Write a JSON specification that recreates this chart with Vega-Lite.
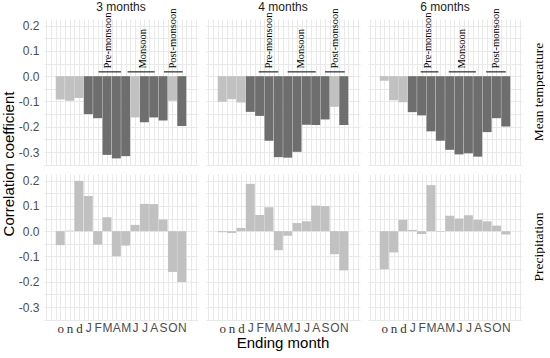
{
  "$schema": "https://vega.github.io/schema/vega-lite/v6.json",
  "padding": {"left": 1, "top": 1, "right": 0, "bottom": 0},
  "background": "white",
  "data": {"values": [
    {"kind":"bar","win":"3 months","var":"Mean temperature","idx":1,"r":-0.092,"sig":"no"},
    {"kind":"bar","win":"3 months","var":"Mean temperature","idx":2,"r":-0.097,"sig":"no"},
    {"kind":"bar","win":"3 months","var":"Mean temperature","idx":3,"r":-0.086,"sig":"no"},
    {"kind":"bar","win":"3 months","var":"Mean temperature","idx":4,"r":-0.150,"sig":"yes"},
    {"kind":"bar","win":"3 months","var":"Mean temperature","idx":5,"r":-0.166,"sig":"yes"},
    {"kind":"bar","win":"3 months","var":"Mean temperature","idx":6,"r":-0.311,"sig":"yes"},
    {"kind":"bar","win":"3 months","var":"Mean temperature","idx":7,"r":-0.325,"sig":"yes"},
    {"kind":"bar","win":"3 months","var":"Mean temperature","idx":8,"r":-0.316,"sig":"yes"},
    {"kind":"bar","win":"3 months","var":"Mean temperature","idx":9,"r":-0.163,"sig":"no"},
    {"kind":"bar","win":"3 months","var":"Mean temperature","idx":10,"r":-0.182,"sig":"yes"},
    {"kind":"bar","win":"3 months","var":"Mean temperature","idx":11,"r":-0.163,"sig":"yes"},
    {"kind":"bar","win":"3 months","var":"Mean temperature","idx":12,"r":-0.175,"sig":"yes"},
    {"kind":"bar","win":"3 months","var":"Mean temperature","idx":13,"r":-0.097,"sig":"no"},
    {"kind":"bar","win":"3 months","var":"Mean temperature","idx":14,"r":-0.197,"sig":"yes"},
    {"kind":"bar","win":"4 months","var":"Mean temperature","idx":1,"r":-0.101,"sig":"no"},
    {"kind":"bar","win":"4 months","var":"Mean temperature","idx":2,"r":-0.091,"sig":"no"},
    {"kind":"bar","win":"4 months","var":"Mean temperature","idx":3,"r":-0.104,"sig":"no"},
    {"kind":"bar","win":"4 months","var":"Mean temperature","idx":4,"r":-0.141,"sig":"yes"},
    {"kind":"bar","win":"4 months","var":"Mean temperature","idx":5,"r":-0.157,"sig":"yes"},
    {"kind":"bar","win":"4 months","var":"Mean temperature","idx":6,"r":-0.255,"sig":"yes"},
    {"kind":"bar","win":"4 months","var":"Mean temperature","idx":7,"r":-0.320,"sig":"yes"},
    {"kind":"bar","win":"4 months","var":"Mean temperature","idx":8,"r":-0.322,"sig":"yes"},
    {"kind":"bar","win":"4 months","var":"Mean temperature","idx":9,"r":-0.299,"sig":"yes"},
    {"kind":"bar","win":"4 months","var":"Mean temperature","idx":10,"r":-0.192,"sig":"yes"},
    {"kind":"bar","win":"4 months","var":"Mean temperature","idx":11,"r":-0.193,"sig":"yes"},
    {"kind":"bar","win":"4 months","var":"Mean temperature","idx":12,"r":-0.171,"sig":"yes"},
    {"kind":"bar","win":"4 months","var":"Mean temperature","idx":13,"r":-0.121,"sig":"no"},
    {"kind":"bar","win":"4 months","var":"Mean temperature","idx":14,"r":-0.193,"sig":"yes"},
    {"kind":"bar","win":"6 months","var":"Mean temperature","idx":1,"r":-0.018,"sig":"no"},
    {"kind":"bar","win":"6 months","var":"Mean temperature","idx":2,"r":-0.095,"sig":"no"},
    {"kind":"bar","win":"6 months","var":"Mean temperature","idx":3,"r":-0.103,"sig":"no"},
    {"kind":"bar","win":"6 months","var":"Mean temperature","idx":4,"r":-0.142,"sig":"yes"},
    {"kind":"bar","win":"6 months","var":"Mean temperature","idx":5,"r":-0.155,"sig":"yes"},
    {"kind":"bar","win":"6 months","var":"Mean temperature","idx":6,"r":-0.218,"sig":"yes"},
    {"kind":"bar","win":"6 months","var":"Mean temperature","idx":7,"r":-0.255,"sig":"yes"},
    {"kind":"bar","win":"6 months","var":"Mean temperature","idx":8,"r":-0.291,"sig":"yes"},
    {"kind":"bar","win":"6 months","var":"Mean temperature","idx":9,"r":-0.309,"sig":"yes"},
    {"kind":"bar","win":"6 months","var":"Mean temperature","idx":10,"r":-0.305,"sig":"yes"},
    {"kind":"bar","win":"6 months","var":"Mean temperature","idx":11,"r":-0.318,"sig":"yes"},
    {"kind":"bar","win":"6 months","var":"Mean temperature","idx":12,"r":-0.221,"sig":"yes"},
    {"kind":"bar","win":"6 months","var":"Mean temperature","idx":13,"r":-0.166,"sig":"yes"},
    {"kind":"bar","win":"6 months","var":"Mean temperature","idx":14,"r":-0.199,"sig":"yes"},
    {"kind":"bar","win":"3 months","var":"Precipitation","idx":1,"r":-0.055,"sig":"no"},
    {"kind":"bar","win":"3 months","var":"Precipitation","idx":2,"r":0.002,"sig":"no"},
    {"kind":"bar","win":"3 months","var":"Precipitation","idx":3,"r":0.199,"sig":"no"},
    {"kind":"bar","win":"3 months","var":"Precipitation","idx":4,"r":0.139,"sig":"no"},
    {"kind":"bar","win":"3 months","var":"Precipitation","idx":5,"r":-0.053,"sig":"no"},
    {"kind":"bar","win":"3 months","var":"Precipitation","idx":6,"r":0.055,"sig":"no"},
    {"kind":"bar","win":"3 months","var":"Precipitation","idx":7,"r":-0.099,"sig":"no"},
    {"kind":"bar","win":"3 months","var":"Precipitation","idx":8,"r":-0.057,"sig":"no"},
    {"kind":"bar","win":"3 months","var":"Precipitation","idx":9,"r":0.025,"sig":"no"},
    {"kind":"bar","win":"3 months","var":"Precipitation","idx":10,"r":0.108,"sig":"no"},
    {"kind":"bar","win":"3 months","var":"Precipitation","idx":11,"r":0.107,"sig":"no"},
    {"kind":"bar","win":"3 months","var":"Precipitation","idx":12,"r":0.046,"sig":"no"},
    {"kind":"bar","win":"3 months","var":"Precipitation","idx":13,"r":-0.161,"sig":"no"},
    {"kind":"bar","win":"3 months","var":"Precipitation","idx":14,"r":-0.201,"sig":"no"},
    {"kind":"bar","win":"4 months","var":"Precipitation","idx":1,"r":-0.004,"sig":"no"},
    {"kind":"bar","win":"4 months","var":"Precipitation","idx":2,"r":-0.007,"sig":"no"},
    {"kind":"bar","win":"4 months","var":"Precipitation","idx":3,"r":0.013,"sig":"no"},
    {"kind":"bar","win":"4 months","var":"Precipitation","idx":4,"r":0.187,"sig":"no"},
    {"kind":"bar","win":"4 months","var":"Precipitation","idx":5,"r":0.064,"sig":"no"},
    {"kind":"bar","win":"4 months","var":"Precipitation","idx":6,"r":0.095,"sig":"no"},
    {"kind":"bar","win":"4 months","var":"Precipitation","idx":7,"r":-0.075,"sig":"no"},
    {"kind":"bar","win":"4 months","var":"Precipitation","idx":8,"r":-0.018,"sig":"no"},
    {"kind":"bar","win":"4 months","var":"Precipitation","idx":9,"r":0.032,"sig":"no"},
    {"kind":"bar","win":"4 months","var":"Precipitation","idx":10,"r":0.039,"sig":"no"},
    {"kind":"bar","win":"4 months","var":"Precipitation","idx":11,"r":0.101,"sig":"no"},
    {"kind":"bar","win":"4 months","var":"Precipitation","idx":12,"r":0.099,"sig":"no"},
    {"kind":"bar","win":"4 months","var":"Precipitation","idx":13,"r":-0.091,"sig":"no"},
    {"kind":"bar","win":"4 months","var":"Precipitation","idx":14,"r":-0.155,"sig":"no"},
    {"kind":"bar","win":"6 months","var":"Precipitation","idx":1,"r":-0.150,"sig":"no"},
    {"kind":"bar","win":"6 months","var":"Precipitation","idx":2,"r":-0.084,"sig":"no"},
    {"kind":"bar","win":"6 months","var":"Precipitation","idx":3,"r":0.045,"sig":"no"},
    {"kind":"bar","win":"6 months","var":"Precipitation","idx":4,"r":0.005,"sig":"no"},
    {"kind":"bar","win":"6 months","var":"Precipitation","idx":5,"r":-0.011,"sig":"no"},
    {"kind":"bar","win":"6 months","var":"Precipitation","idx":6,"r":0.182,"sig":"no"},
    {"kind":"bar","win":"6 months","var":"Precipitation","idx":7,"r":-0.002,"sig":"no"},
    {"kind":"bar","win":"6 months","var":"Precipitation","idx":8,"r":0.061,"sig":"no"},
    {"kind":"bar","win":"6 months","var":"Precipitation","idx":9,"r":0.050,"sig":"no"},
    {"kind":"bar","win":"6 months","var":"Precipitation","idx":10,"r":0.063,"sig":"no"},
    {"kind":"bar","win":"6 months","var":"Precipitation","idx":11,"r":0.045,"sig":"no"},
    {"kind":"bar","win":"6 months","var":"Precipitation","idx":12,"r":0.039,"sig":"no"},
    {"kind":"bar","win":"6 months","var":"Precipitation","idx":13,"r":0.022,"sig":"no"},
    {"kind":"bar","win":"6 months","var":"Precipitation","idx":14,"r":-0.013,"sig":"no"},
    {"kind":"ann","win":"3 months","var":"Mean temperature","label":"Pre-monsoon","x1":5.1,"x2":7.5,"xm":6.1},
    {"kind":"ann","win":"3 months","var":"Mean temperature","label":"Monsoon","x1":8.2,"x2":11.1,"xm":9.8},
    {"kind":"ann","win":"3 months","var":"Mean temperature","label":"Post-monsoon","x1":12.1,"x2":14.1,"xm":13.1},
    {"kind":"ann","win":"4 months","var":"Mean temperature","label":"Pre-monsoon","x1":4.9,"x2":7.0,"xm":6.0},
    {"kind":"ann","win":"4 months","var":"Mean temperature","label":"Monsoon","x1":8.0,"x2":11.0,"xm":9.4},
    {"kind":"ann","win":"4 months","var":"Mean temperature","label":"Post-monsoon","x1":12.0,"x2":14.1,"xm":13.1},
    {"kind":"ann","win":"6 months","var":"Mean temperature","label":"Pre-monsoon","x1":4.9,"x2":6.8,"xm":5.7},
    {"kind":"ann","win":"6 months","var":"Mean temperature","label":"Monsoon","x1":7.9,"x2":10.8,"xm":9.3},
    {"kind":"ann","win":"6 months","var":"Mean temperature","label":"Post-monsoon","x1":11.9,"x2":14.0,"xm":13.0}
  ]},
  "facet": {
    "column": {"field": "win", "type": "nominal", "sort": ["3 months", "4 months", "6 months"],
      "header": {"title": "Ending month", "titleOrient": "bottom", "titleFont": "Liberation Sans", "titleFontSize": 15, "titleFontWeight": "normal", "titleColor": "#000000", "titlePadding": -9,
        "labelOrient": "top", "labelFont": "Liberation Sans", "labelFontSize": 12, "labelColor": "#1a1a1a", "labelPadding": -6}},
    "row": {"field": "var", "type": "nominal", "sort": ["Mean temperature", "Precipitation"],
      "header": {"title": "Correlation coefficient", "titleOrient": "left", "titleFont": "Liberation Sans", "titleFontSize": 15, "titleFontWeight": "normal", "titleColor": "#000000", "titlePadding": -9,
        "labelOrient": "right", "labelAngle": -90, "labelFont": "Liberation Serif", "labelFontSize": 13.5, "labelColor": "#000000", "labelPadding": 3,
        "labelExpr": "datum.value == 'Mean temperature' ? datum.value + '\u00a0\u00a0\u00a0\u00a0\u00a0\u00a0\u00a0\u00a0\u00a0\u00a0\u00a0\u00a0\u00a0' : '\u00a0\u00a0\u00a0\u00a0\u00a0\u00a0\u00a0\u00a0\u00a0\u00a0\u00a0' + datum.value"}}
  },
  "spacing": {"row": 9, "column": 8},
  "spec": {
    "width": 154,
    "height": 146,
    "layer": [
      {
        "transform": [{"filter": "datum.kind == 'bar'"}],
        "mark": {"type": "bar", "size": 9},
        "encoding": {
          "x": {"field": "idx", "type": "quantitative", "title": null,
            "scale": {"domain": [-0.2, 15.2], "nice": false, "zero": false}},
          "y": {"field": "r", "type": "quantitative", "title": null,
            "scale": {"domain": [-0.351, 0.226], "nice": false}},
          "color": {"field": "sig", "type": "nominal", "scale": {"domain": ["yes", "no"], "range": ["#6e6e6e", "#c1c1c1"]}, "legend": null}
        }
      },
      {
        "transform": [{"filter": "datum.kind == 'ann'"}],
        "mark": {"type": "rule", "color": "#000000", "strokeWidth": 1},
        "encoding": {
          "x": {"field": "x1", "type": "quantitative", "title": null},
          "x2": {"field": "x2"},
          "y": {"datum": 0.017, "type": "quantitative", "title": null}
        }
      },
      {
        "transform": [{"filter": "datum.kind == 'ann'"}],
        "mark": {"type": "text", "angle": 270, "align": "left", "baseline": "middle", "font": "Liberation Serif", "fontSize": 10.5, "color": "#000000"},
        "encoding": {
          "x": {"field": "xm", "type": "quantitative", "title": null},
          "y": {"datum": 0.03, "type": "quantitative", "title": null},
          "text": {"field": "label"}
        }
      }
    ]
  },
  "config": {
    "view": {"stroke": null},
    "axis": {"ticks": false, "domain": false, "gridColor": "#e9e9e9", "gridWidth": 1, "labelOverlap": false, "labelFont": "Liberation Sans", "labelFontSize": 12, "labelColor": "#4d4d4d", "minExtent": 0},
    "axisX": {
      "tickCount": 31,
      "labelExpr": "datum.value % 1 == 0 && datum.value >= 1 && datum.value <= 14 ? ['o','n','d','J','F','M','A','M','J','J','A','S','O','N'][datum.value - 1] : ''",
      "labelFont": {"condition": {"test": "datum.value <= 3", "value": "Liberation Serif"}, "value": "Liberation Sans"},
      "labelFontSize": {"condition": {"test": "datum.value <= 3", "value": 13}, "value": 12},
      "labelColor": {"condition": {"test": "datum.value <= 3", "value": "#333333"}, "value": "#4d4d4d"},
      "labelPadding": 2
    },
    "axisY": {
      "tickCount": 12,
      "labelExpr": "abs(datum.value * 10 - round(datum.value * 10)) < 0.001 ? replace(format(datum.value, '.1f'), '\u2212', '-') : ''",
      "labelPadding": 5
    }
  }
}
